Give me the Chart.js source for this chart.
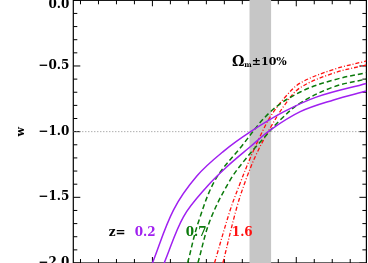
<!DOCTYPE html>
<html><head><meta charset="utf-8">
<script src="https://cdn.jsdelivr.net/npm/chart.js@4/dist/chart.umd.min.js"></script>
<style>html,body{margin:0;padding:0;background:#fff;overflow:hidden}</style>
</head><body>
<canvas id="c" width="368" height="263"></canvas>
<script>
// ---- data (x = Omega_m, y = w) ----
const xMin = -0.22, xMax = 0.595;
const yMin = -2.0, yMax = 0.0;
const yMajorTicks = [0.0, -0.5, -1.0, -1.5, -2.0];
const yMinorTicks = [-0.1,-0.2,-0.3,-0.4,-0.6,-0.7,-0.8,-0.9,-1.1,-1.2,-1.3,-1.4,-1.6,-1.7,-1.8,-1.9];
const xMinorTicks = [-0.2,-0.15,-0.1,-0.05,0.05,0.1,0.15,0.2,0.25,0.3,0.35,0.45,0.5,0.55];
const xMajorTicks = [0.0, 0.4];
const bandOm = [0.27, 0.33];
const refLineOm = [-0.22, 0.595];
const refLineW = [-1.0, -1.0];

// z = 0.2 (purple, solid)
const p1Om = [0.000, 0.0585, 0.1236, 0.1976, 0.272, 0.3646, 0.4576, 0.595];
const p1W  = [-2.0, -1.597, -1.338, -1.150, -1.002, -0.850, -0.735, -0.633];
const p2Om = [0.0326, 0.0863, 0.1514, 0.2071, 0.272, 0.3276, 0.4111, 0.5038, 0.595];
const p2W  = [-2.0, -1.648, -1.419, -1.267, -1.115, -0.988, -0.848, -0.759, -0.690];
// z = 0.7 (green, dashed)
const g1Om = [0.098, 0.127, 0.1745, 0.2441, 0.3276, 0.4111, 0.503, 0.595];
const g1W  = [-2.0, -1.696, -1.368, -1.124, -0.850, -0.698, -0.607, -0.551];
const g2Om = [0.1264, 0.1606, 0.2163, 0.2636, 0.2998, 0.3555, 0.4111, 0.503, 0.595];
const g2W  = [-2.0, -1.673, -1.368, -1.193, -1.079, -0.911, -0.782, -0.660, -0.599];
// z = 1.6 (red, dash-dot)
const r1Om = [0.1726, 0.2163, 0.2441, 0.272, 0.2998, 0.3276, 0.3694, 0.4111, 0.503, 0.595];
const r1W  = [-2.0, -1.597, -1.391, -1.201, -1.033, -0.888, -0.736, -0.630, -0.527, -0.462];
const r2Om = [0.196, 0.2349, 0.2628, 0.2906, 0.3276, 0.3694, 0.4111, 0.503, 0.595];
const r2W  = [-2.0, -1.574, -1.345, -1.163, -0.972, -0.790, -0.665, -0.555, -0.492];

const pts = (xs, ys) => xs.map((v, i) => ({x: v, y: ys[i]}));
const fmt = v => v === 0 ? ['', '0.0'] : (v < 0 ? '\u2212' : '') + Math.abs(v).toFixed(1);

const PURPLE = '#a020f0', GREEN = '#0b7a0b', RED = '#ff1010';
const SERIF = '"DejaVu Serif", "Liberation Serif", serif';

function curve(data, color, dash, w) {
  return {type: 'line', data, borderColor: color, borderWidth: w, borderDash: dash,
          pointRadius: 0, fill: false, tension: 0.35};
}

const decor = {
  id: 'decor',
  beforeDatasetsDraw(chart) {
    const {ctx, chartArea: a, scales: {x, y}} = chart;
    ctx.save();
    ctx.strokeStyle = '#000';
    ctx.lineWidth = 1.2;
    ctx.strokeRect(a.left, a.top, a.right - a.left, a.bottom - a.top);
    ctx.lineWidth = 1;
    ctx.beginPath();
    const yt = (v, len) => { const p = y.getPixelForValue(v);
      ctx.moveTo(a.left, p); ctx.lineTo(a.left + len, p);
      ctx.moveTo(a.right, p); ctx.lineTo(a.right - len, p); };
    const xt = (v, len) => { const p = x.getPixelForValue(v);
      ctx.moveTo(p, a.bottom); ctx.lineTo(p, a.bottom - len);
      ctx.moveTo(p, a.top); ctx.lineTo(p, a.top + len); };
    yMajorTicks.forEach(v => yt(v, 7));
    yMinorTicks.forEach(v => yt(v, 4));
    xMajorTicks.forEach(v => xt(v, 6));
    xMinorTicks.forEach(v => xt(v, 4));
    ctx.stroke();
    ctx.restore();
  },
  afterDatasetDraw(chart, args) {
    if (args.index !== 6) return;
    const {ctx, chartArea: a, scales: {x, y}} = chart;
    ctx.save();
    const x0 = x.getPixelForValue(bandOm[0]), x1 = x.getPixelForValue(bandOm[1]);
    ctx.fillStyle = '#c6c6c6';
    ctx.fillRect(x0, a.top - 1, x1 - x0, a.bottom - a.top + 2);
    // labels
    ctx.textBaseline = 'middle';
    ctx.font = 'bold 12px ' + SERIF;
    const ty = y.getPixelForValue(-1.769);
    const lab = (t, v, c) => { ctx.fillStyle = c; ctx.textAlign = 'center'; ctx.fillText(t, x.getPixelForValue(v), ty); };
    lab('z=', -0.098, '#000');
    lab('0.2', -0.0203, PURPLE);
    lab('0.7', 0.1216, GREEN);
    lab('1.6', 0.2497, RED);
    // Omega_m +- 10%
    ctx.fillStyle = '#000';
    ctx.textAlign = 'left';
    let px = x.getPixelForValue(0.221);
    const oy = y.getPixelForValue(-0.4696);
    ctx.font = 'bold 14px ' + SERIF;
    ctx.fillText('\u03A9', px, oy);
    px += ctx.measureText('\u03A9').width;
    ctx.font = 'bold 7px ' + SERIF;
    ctx.fillText('m', px, oy + 3);
    px += ctx.measureText('m').width;
    ctx.font = 'bold 11px ' + SERIF;
    ctx.fillText('\u00B110%', px, oy);
    ctx.restore();
  }
};

new Chart(document.getElementById('c'), {
  data: {
    datasets: [
      curve(pts(p1Om, p1W), PURPLE, [], 1.5),
      curve(pts(p2Om, p2W), PURPLE, [], 1.5),
      curve(pts(g1Om, g1W), GREEN, [5, 3], 1.5),
      curve(pts(g2Om, g2W), GREEN, [5, 3], 1.5),
      curve(pts(r1Om, r1W), RED, [4, 2, 1, 2], 1.3),
      curve(pts(r2Om, r2W), RED, [4, 2, 1, 2], 1.3),
      {type: 'line', data: pts(refLineOm, refLineW), borderColor: '#8a8a8a', borderWidth: 1,
       borderDash: [1, 2], pointRadius: 0, fill: false}
    ]
  },
  options: {
    responsive: false, animation: false, devicePixelRatio: 1,
    layout: {autoPadding: false, padding: {left: 0, right: 1.6, top: 0.3, bottom: 0}},
    plugins: {legend: {display: false}, tooltip: {enabled: false}},
    scales: {
      x: {type: 'linear', min: xMin, max: xMax, display: false},
      y: {type: 'linear', min: yMin, max: yMax,
          afterFit(s) { s.width = 73.3; s.paddingTop = 0; s.paddingBottom = 0; },
          grid: {display: false, drawTicks: false},
          border: {display: false},
          ticks: {stepSize: 0.5, padding: 4, color: '#000',
                  font: {family: SERIF, weight: 'bold', size: 12, lineHeight: 0.75},
                  callback: v => fmt(v)},
          title: {display: true, text: 'w', color: '#000',
                  font: {family: SERIF, weight: 'bold', size: 11},
                  padding: {top: 15, bottom: 0}}
      }
    }
  },
  plugins: [decor]
});
</script>
</body></html>
